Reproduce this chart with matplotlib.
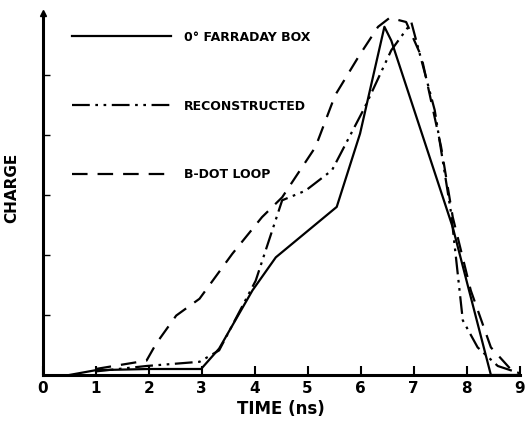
import matplotlib
matplotlib.use("Agg")
import matplotlib.pyplot as plt

# time (ns) and charge (arbitrary units, one unit per y tick)
t_box = [0.5, 1.0, 2.0, 2.99, 3.33, 3.96, 4.40, 5.55, 5.99, 6.45, 6.58, 7.74, 8.46, 9.0]
q_box = [0.0, 0.08, 0.10, 0.10, 0.44, 1.41, 1.96, 2.80, 4.02, 5.80, 5.57, 2.46, 0.0, 0.0]

t_rec = [1.0, 1.96, 2.96, 3.33, 4.02, 4.52, 4.96, 5.46, 6.08, 6.58, 6.96, 7.40, 7.71, 7.93,
         8.21, 8.59, 9.0]
q_rec = [0.06, 0.15, 0.22, 0.41, 1.57, 2.91, 3.07, 3.41, 4.46, 5.41, 5.87, 4.41, 2.69, 0.91,
         0.46, 0.15, 0.03]

t_bdot = [1.0, 1.96, 2.14, 2.52, 2.96, 3.58, 4.14, 4.52, 5.15, 5.52, 5.96, 6.33, 6.55, 6.86,
          7.15, 7.52, 7.74, 8.08, 8.46, 8.83, 9.0]
q_bdot = [0.10, 0.24, 0.52, 0.99, 1.27, 2.02, 2.63, 2.96, 3.80, 4.66, 5.30, 5.80, 5.95, 5.88,
          5.30, 3.80, 2.63, 1.41, 0.46, 0.10, 0.03]

x_ticks = [0, 1, 2, 3, 4, 5, 6, 7, 8, 9]
y_ticks = [1, 2, 3, 4, 5]

plt.rcParams['font.family'] = ['DejaVu Sans']
plt.rcParams['font.weight'] = 'bold'

W, H = 527, 421
fig = plt.figure(figsize=(W / 100, H / 100), dpi=100)
# axes box in pixels: x from 42.7 to 519.5, y from 13 (top) to 375 (baseline)
ax = fig.add_axes([42.7 / W, 1 - 375 / H, 476.8 / W, 362 / H])

ax.plot(t_box, q_box, color='black', lw=1.6, ls='-', label='0° FARRADAY BOX')
ax.plot(t_rec, q_rec, color='black', lw=1.6, ls=(0, (8, 2.5, 1.2, 2.5, 1.2, 2.5)),
        label='RECONSTRUCTED')
ax.plot(t_bdot, q_bdot, color='black', lw=1.6, ls=(0, (7, 4.5)), label='B-DOT LOOP')

ax.set_xlim(0, 9.0)
ax.set_ylim(0, 6.03)
ax.set_xticks(x_ticks)
ax.set_xticklabels([str(v) for v in x_ticks], fontsize=11, fontweight='bold')
ax.set_yticks(y_ticks)
ax.set_yticklabels([])
ax.tick_params(axis='x', direction='in', length=6.5, width=1.5, pad=4)
ax.tick_params(axis='y', direction='in', length=5, width=1.0)

for s in ['top', 'right']:
    ax.spines[s].set_visible(False)
ax.spines['left'].set_linewidth(2.2)
ax.spines['bottom'].set_linewidth(2.2)
# arrow head on top of the y axis
ax.plot([0], [6.03], marker='^', color='black', ms=5, clip_on=False)

ax.set_xlabel('TIME (ns)', fontsize=12, fontweight='bold', labelpad=3)
ax.set_ylabel('CHARGE', fontsize=11, fontweight='bold')
ax.yaxis.set_label_coords(-0.05, 0.517)

ax.legend(loc='upper left', bbox_to_anchor=(61 / W, 1 - 19.5 / H),
          bbox_transform=fig.transFigure, frameon=False,
          handlelength=7.9, handletextpad=1.0, labelspacing=4.47,
          prop={'size': 9, 'weight': 'bold'})

fig.savefig('out.png', dpi=100)
